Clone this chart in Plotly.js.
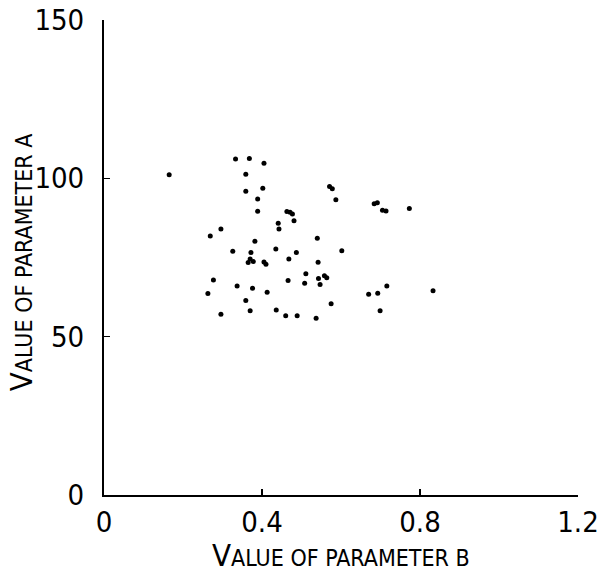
<!DOCTYPE html>
<html>
<head>
<meta charset="utf-8">
<script src="https://cdn.plot.ly/plotly-3.0.1.min.js"></script>
<style>
html,body{margin:0;padding:0;background:#fff;}
#chart{width:599px;height:574px;}
#chart text{font-stretch:condensed !important;}
</style>
</head>
<body>
<div id="chart"></div>
<script>
// Parameter B (x) and parameter A (y) values
const paramB = [
  0.165, 0.333, 0.368, 0.405, 0.359, 0.359, 0.402, 0.389, 0.389, 0.463,
  0.471, 0.477, 0.481, 0.441, 0.443, 0.296, 0.269, 0.382, 0.326, 0.372,
  0.435, 0.487, 0.370, 0.365, 0.378, 0.468, 0.405, 0.410, 0.511, 0.277,
  0.466, 0.508, 0.337, 0.376, 0.263, 0.413, 0.359, 0.296, 0.370, 0.436,
  0.460, 0.489,
  0.571, 0.578, 0.587, 0.684, 0.692, 0.705, 0.714, 0.773, 0.540, 0.602,
  0.542, 0.543, 0.558, 0.564, 0.547, 0.716, 0.670, 0.693, 0.833, 0.575,
  0.699, 0.537
];
const paramA = [
  101.1, 106.1, 106.3, 104.8, 101.3, 95.9, 96.9, 93.5, 89.6, 89.5,
  89.3, 88.7, 86.6, 85.8, 84.0, 84.0, 81.8, 80.1, 77.0, 76.6,
  77.7, 76.6, 74.5, 73.4, 73.7, 74.5, 73.6, 72.9, 69.9, 67.9,
  67.7, 66.9, 66.0, 65.3, 63.6, 64.0, 61.4, 57.1, 58.2, 58.4,
  56.6, 56.6,
  97.4, 96.7, 93.2, 92.0, 92.3, 89.9, 89.7, 90.5, 81.1, 77.1,
  73.5, 68.4, 69.2, 68.6, 66.5, 66.0, 63.4, 63.7, 64.5, 60.4,
  58.2, 55.8
];
const xTicks = [0, 0.4, 0.8, 1.2];
const xTickLabels = ["0", "0.4", "0.8", "1.2"];
const yTicks = [0, 50, 100, 150];
const yTickLabels = ["0", "50", "100", "150"];

const FONT = "'DejaVu Sans Condensed', 'DejaVu Sans', sans-serif";

const trace = {
  x: paramB, y: paramA, type: "scatter", mode: "markers",
  marker: {color: "#000", size: 5},
  hoverinfo: "none"
};

const layout = {
  width: 599, height: 574,
  margin: {l: 104, r: 21, t: 20, b: 79},
  paper_bgcolor: "#fff", plot_bgcolor: "#fff",
  showlegend: false,
  font: {family: FONT, color: "#000"},
  xaxis: {
    range: [0, 1.2], tickvals: xTicks, ticktext: xTickLabels,
    showgrid: false, zeroline: false,
    showline: true, linecolor: "#000", linewidth: 2,
    ticks: "inside", ticklen: 6, tickwidth: 1.5, tickcolor: "#000",
    tickfont: {family: FONT, size: 29, color: "#000"},
    ticklabelstandoff: 0
  },
  yaxis: {
    range: [0, 150], tickvals: yTicks, ticktext: yTickLabels,
    showgrid: false, zeroline: false,
    showline: true, linecolor: "#000", linewidth: 2,
    ticks: "inside", ticklen: 6, tickwidth: 1.5, tickcolor: "#000",
    tickfont: {family: FONT, size: 29, color: "#000"},
    ticklabelstandoff: 12
  },
  annotations: [
    {
      text: "V<span style='font-size:23px'>ALUE OF PARAMETER B</span>",
      xref: "paper", yref: "paper", x: 0.5, y: 0, yshift: -60,
      xanchor: "center", yanchor: "middle", showarrow: false,
      font: {family: FONT, size: 31, color: "#000"}
    },
    {
      text: "V<span style='font-size:23px'>ALUE OF PARAMETER A</span>",
      xref: "paper", yref: "paper", x: 0, xshift: -83, y: 0.49,
      xanchor: "center", yanchor: "middle", showarrow: false, textangle: -90,
      font: {family: FONT, size: 31, color: "#000"}
    }
  ]
};

Plotly.newPlot("chart", [trace], layout, {displayModeBar: false, staticPlot: true});
</script>
</body>
</html>
